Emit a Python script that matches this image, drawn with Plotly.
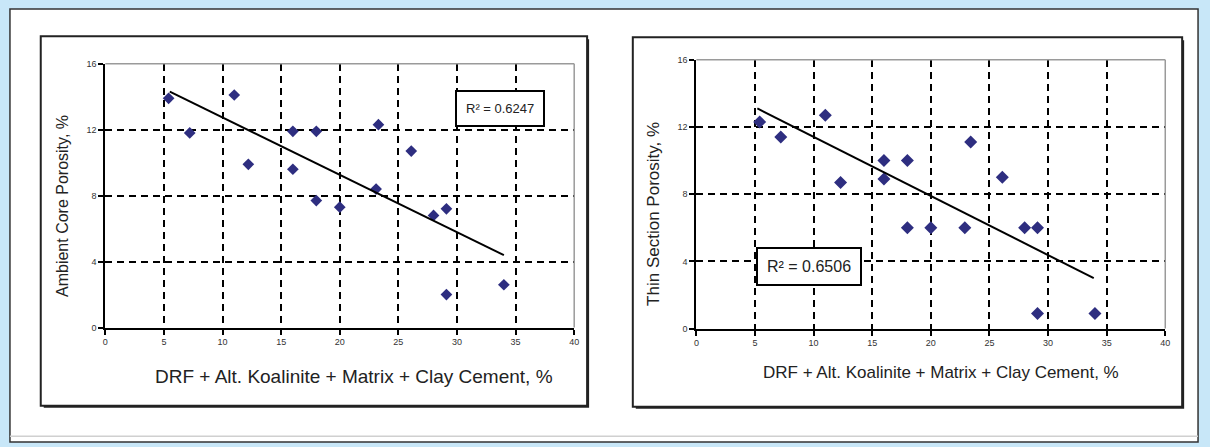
import plotly.graph_objects as go

# ---------------- data ----------------
x_ticks = [0, 5, 10, 15, 20, 25, 30, 35, 40]
y_ticks = [0, 4, 8, 12, 16]

left_x = [5.4, 7.2, 11.0, 12.2, 16.0, 16.0, 18.0, 18.0, 20.0, 23.1, 23.3, 26.1, 28.0, 29.1, 29.1, 34.0]
left_y = [13.9, 11.8, 14.1, 9.9, 11.9, 9.6, 11.9, 7.7, 7.3, 8.4, 12.3, 10.7, 6.8, 7.2, 2.0, 2.6]
left_trend_x = [5.5, 34.0]
left_trend_y = [14.3, 4.4]
left_r2 = "R² = 0.6247"

right_x = [5.4, 7.2, 11.0, 12.3, 16.0, 16.0, 18.0, 18.0, 20.0, 22.9, 23.4, 26.1, 28.0, 29.1, 29.1, 34.0]
right_y = [12.3, 11.4, 12.7, 8.7, 10.0, 8.9, 10.0, 6.0, 6.0, 6.0, 11.1, 9.0, 6.0, 6.0, 0.9, 0.9]
right_trend_x = [5.2, 33.9]
right_trend_y = [13.1, 3.0]
right_r2 = "R² = 0.6506"

x_title = "DRF + Alt. Koalinite + Matrix + Clay Cement, %"
left_y_title = "Ambient Core Porosity, %"
right_y_title = "Thin Section Porosity, %"

# ---------------- layout helpers ----------------
W, H = 1210, 447
FONT = "Liberation Sans, Arial, sans-serif"
MARK = "#2e2e80"


def px(x):
    return x / W


def py(y):
    return 1 - y / H


fig = go.Figure()

fig.add_trace(go.Scatter(x=left_x, y=left_y, mode="markers", xaxis="x", yaxis="y",
                         marker=dict(symbol="diamond", size=9, color=MARK), showlegend=False))
fig.add_trace(go.Scatter(x=left_trend_x, y=left_trend_y, mode="lines", xaxis="x", yaxis="y",
                         line=dict(color="black", width=2), showlegend=False))
fig.add_trace(go.Scatter(x=right_x, y=right_y, mode="markers", xaxis="x2", yaxis="y2",
                         marker=dict(symbol="diamond", size=10, color=MARK), showlegend=False))
fig.add_trace(go.Scatter(x=right_trend_x, y=right_trend_y, mode="lines", xaxis="x2", yaxis="y2",
                         line=dict(color="black", width=2), showlegend=False))

axis_common = dict(
    showgrid=True, gridcolor="black", gridwidth=2, griddash="7px,5px",
    zeroline=False, showline=True, linecolor="black", linewidth=2,
    ticks="outside", ticklen=5, tickwidth=2, tickcolor="black",
    tickfont=dict(family=FONT, size=9, color="#333"),
)

fig.update_layout(
    width=W, height=H,
    margin=dict(l=0, r=0, t=0, b=0),
    paper_bgcolor="#c8e7f8",
    plot_bgcolor="rgba(0,0,0,0)",
    xaxis=dict(domain=[px(103), px(575)], range=[0, 40], tickvals=x_ticks,
               ticktext=[str(v) for v in x_ticks], anchor="y", **axis_common),
    yaxis=dict(domain=[py(330), py(60)], range=[0, 16], tickvals=y_ticks,
               ticktext=[str(v) for v in y_ticks], anchor="x", **axis_common),
    xaxis2=dict(domain=[px(698), px(1170)], range=[0, 40], tickvals=x_ticks,
                ticktext=[str(v) for v in x_ticks], anchor="y2", **axis_common),
    yaxis2=dict(domain=[py(331), py(56)], range=[0, 16], tickvals=y_ticks,
                ticktext=[str(v) for v in y_ticks], anchor="x2", **axis_common),
)

shapes = []
# page white panel with border
shapes.append(dict(type="rect", xref="paper", yref="paper", x0=px(7), x1=px(1203), y0=py(447), y1=py(4),
                   fillcolor="white", line=dict(color="#333", width=1.5), layer="below"))
shapes.append(dict(type="line", xref="paper", yref="paper", x0=px(7), x1=px(1203), y0=py(441), y1=py(441),
                   line=dict(color="#d0d0d0", width=1.5), layer="below"))
# chart boxes with shadow
for (x0, y0, x1, y1) in [(38, 32, 588, 410), (634, 33, 1187, 411)]:
    shapes.append(dict(type="rect", xref="paper", yref="paper", x0=px(x0 + 3), x1=px(x1 + 2),
                       y0=py(y1 + 2), y1=py(y0 + 3), fillcolor="#222", line=dict(width=0), layer="below"))
    shapes.append(dict(type="rect", xref="paper", yref="paper", x0=px(x0), x1=px(x1),
                       y0=py(y1), y1=py(y0), fillcolor="white", line=dict(color="#222", width=2), layer="below"))
# gray top/right borders of the plot areas
for xr, yr in [("x", "y"), ("x2", "y2")]:
    shapes.append(dict(type="line", xref=f"{xr} domain", yref=f"{yr} domain", x0=0, x1=1, y0=1, y1=1,
                       line=dict(color="#9a9a9a", width=1.5)))
    shapes.append(dict(type="line", xref=f"{xr} domain", yref=f"{yr} domain", x0=1, x1=1, y0=0, y1=1,
                       line=dict(color="#9a9a9a", width=1.5)))
fig.update_layout(shapes=shapes)

annotations = [
    dict(text=x_title, xref="paper", yref="paper", x=px(353), y=py(380), showarrow=False,
         font=dict(family=FONT, size=19, color="#222"), xanchor="center", yanchor="middle"),
    dict(text=x_title, xref="paper", yref="paper", x=px(944), y=py(376), showarrow=False,
         font=dict(family=FONT, size=17, color="#222"), xanchor="center", yanchor="middle"),
    dict(text=left_y_title, xref="paper", yref="paper", x=px(60), y=py(206), showarrow=False,
         textangle=-90, font=dict(family=FONT, size=16, color="#222"), xanchor="center", yanchor="middle"),
    dict(text=right_y_title, xref="paper", yref="paper", x=px(655), y=py(214), showarrow=False,
         textangle=-90, font=dict(family=FONT, size=17, color="#222"), xanchor="center", yanchor="middle"),
    dict(text=left_r2, xref="x", yref="y", x=33.7, y=13.3, showarrow=False,
         font=dict(family=FONT, size=13, color="#222"), bgcolor="white",
         bordercolor="black", borderwidth=2, borderpad=9),
    dict(text=right_r2, xref="x2", yref="y2", x=9.6, y=3.7, showarrow=False,
         font=dict(family=FONT, size=16, color="#222"), bgcolor="white",
         bordercolor="black", borderwidth=2, borderpad=9),
]
fig.update_layout(annotations=annotations)

fig.write_html("out.html", config={"displayModeBar": False},
               post_script="document.body.style.margin='0';document.body.style.padding='0';document.body.style.overflow='hidden';")
